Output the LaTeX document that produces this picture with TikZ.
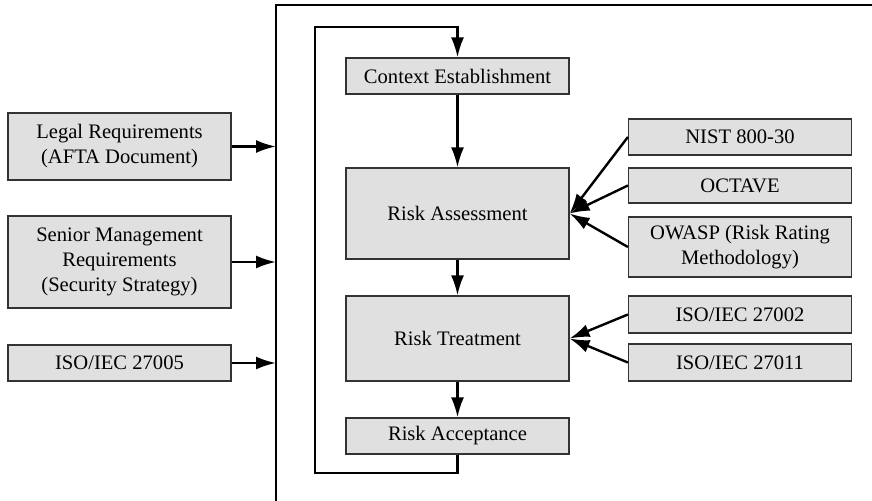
\documentclass[tikz,border=0pt]{standalone}
\usepackage{fontspec}
\setmainfont{Liberation Serif}
\usepackage{xcolor}
\usepackage{tikz}
\usetikzlibrary{arrows.meta, positioning, calc}
\definecolor{boxgray}{HTML}{E0E0E0}
\tikzstyle{block} = [draw=black!80, line width=0.6pt, fill=boxgray, inner sep=0pt, align=center, minimum width=111.5pt, font=\fontsize{10.3}{12.5}\selectfont]
\tikzstyle{arrow} = [line width=1.2pt, -{Latex[length=10pt, width=6.5pt]}]

\begin{document}
\begin{tikzpicture}[x=0.5pt, y=-0.5pt]

\useasboundingbox (0, 0) rectangle (872, 501);

% outer frame
\coordinate (ftop) at (276, 5);
\coordinate (fbot) at (276, 501);
\coordinate (fright) at (872, 5);
\draw [line width=0.6pt] (fbot) -- (ftop) -- (fright);

% inputs on the left
\node [block, minimum height=33.5pt] (legal) at (119.5, 146.5) {Legal Requirements\\(AFTA Document)};
\node [block, minimum height=46pt] (senior) at (119.5, 262) {Senior Management\\Requirements\\(Security Strategy)};
\node [block, minimum height=18pt] (iso5) at (119.5, 363) {ISO/IEC 27005};

% main process
\node [block, minimum height=18pt] (context) at (457.5, 76) {Context Establishment};
\node [block, minimum height=45.5pt] (assess) at (457.5, 213.5) {Risk Assessment};
\node [block, minimum height=42.5pt] (treat) at (457.5, 338.5) {Risk Treatment};
\node [block, minimum height=18pt] (accept) at (457.5, 436) {Risk Acceptance};

% methods on the right
\node [block, minimum height=18pt] (nist) at (740, 137) {NIST 800-30};
\node [block, minimum height=17.5pt] (octave) at (740, 185.5) {OCTAVE};
\node [block, minimum height=30pt] (owasp) at (740, 247) {OWASP (Risk Rating\\Methodology)};
\node [block, minimum height=18.5pt] (iso2) at (740, 314.5) {ISO/IEC 27002};
\node [block, minimum height=18.5pt] (iso11) at (740, 362.5) {ISO/IEC 27011};

\draw [arrow] (legal.east) -- (legal.east -| ftop);
\draw [arrow] (senior.east) -- (senior.east -| ftop);
\draw [arrow] (iso5.east) -- (iso5.east -| ftop);

\draw [arrow] (context) -- (assess);
\draw [arrow] (assess) -- (treat);
\draw [arrow] (treat) -- (accept);

\draw [arrow] (nist.west) -- (assess.east);
\draw [arrow] (octave.west) -- (assess.east);
\draw [arrow] (owasp.west) -- (assess.east);
\draw [arrow] (iso2.west) -- (treat.east);
\draw [arrow] (iso11.west) -- (treat.east);

% feedback loop
\coordinate (lbot) at (315, 473);
\coordinate (ltop) at (315, 27);
\draw [arrow] (accept.south) |- (lbot) -- (ltop) -| (context.north);

\end{tikzpicture}
\end{document}
